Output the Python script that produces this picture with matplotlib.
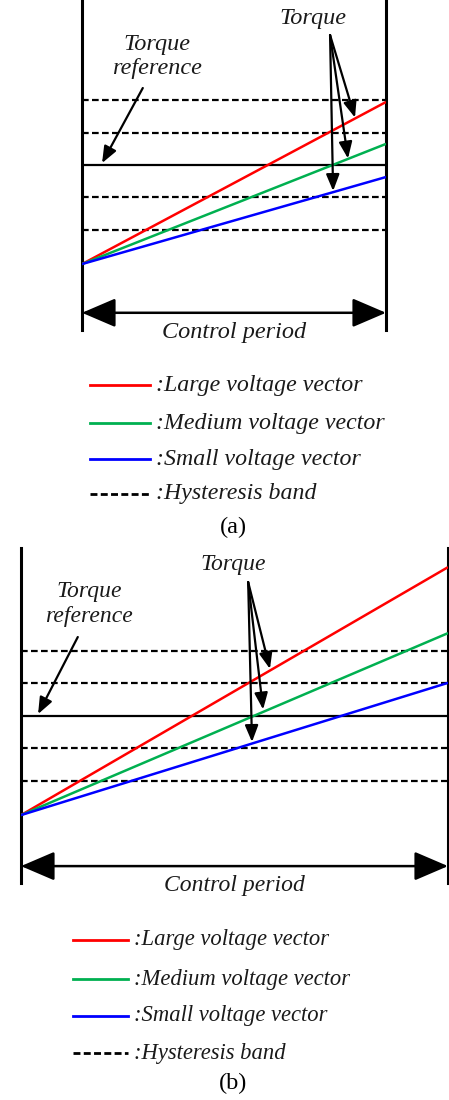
import matplotlib
matplotlib.use("Agg")
import matplotlib.pyplot as plt
from matplotlib.lines import Line2D

W, H = 449, 1100

# ---------------- data ----------------
vector_names = ["Large voltage vector", "Medium voltage vector", "Small voltage vector"]
vector_colors = ["#ff0000", "#00b050", "#0000ff"]
legend_labels = [":Large voltage vector", ":Medium voltage vector",
                 ":Small voltage vector", ":Hysteresis band"]

torque_ref = 0.0
hyst_levels = [2.0, 1.0, -1.0, -2.0]
period = [0.0, 1.0]

# panel (a)
start_a = -3.05
end_a = [1.94, 0.65, -0.37]
# panel (b)
start_b = -3.05
end_b = [4.58, 2.55, 1.02]

FONT = "Liberation Serif"
DASH = (0, (3, 1.5))


def px_axes(x0, x1, ytop, ybot):
    return fig.add_axes([x0 / W, 1 - ybot / H, (x1 - x0) / W, (ybot - ytop) / H])


def fx(px):
    return px / W


def fy(py):
    return 1 - py / H


fig = plt.figure(figsize=(W / 100, H / 100), dpi=100)


def draw_panel(ax, ylim, start, ends, torque_txt, ref_txt1, ref_txt2,
               ref_arrow, tq_from, tq_to, ctrl_y, ctrl_txt_y, fs):
    ax.set_xlim(period)
    ax.set_ylim(ylim)
    ax.axis("off")
    for xv in period:
        ax.axvline(xv, color="black", lw=2.2, clip_on=False)
    ax.hlines(hyst_levels, period[0], period[1], colors="black", lw=1.6,
              linestyles=[DASH])
    ax.hlines([torque_ref], period[0], period[1], colors="black", lw=1.6)
    for e, c in zip(ends, vector_colors):
        ax.plot(period, [start, e], color=c, lw=1.8, solid_capstyle="butt")
    tkw = dict(fontfamily=FONT, fontstyle="italic", fontsize=fs, color="#1a1a1a",
               ha="center", va="center")
    ax.text(*torque_txt, "Torque", **tkw)
    ax.text(*ref_txt1, "Torque", **tkw)
    ax.text(*ref_txt2, "reference", **tkw)
    akw = dict(arrowstyle="-|>,head_length=10,head_width=4", color="black",
               lw=1.6, mutation_scale=1, shrinkA=0, shrinkB=0)
    ax.annotate("", xy=ref_arrow[1], xytext=ref_arrow[0], arrowprops=akw,
                annotation_clip=False)
    for t in tq_to:
        ax.annotate("", xy=t, xytext=tq_from, arrowprops=akw, annotation_clip=False)
    ckw = dict(arrowstyle="<|-|>,head_length=21,head_width=9", color="black",
               lw=1.8, mutation_scale=1, shrinkA=0, shrinkB=0)
    ax.annotate("", xy=(period[1], ctrl_y), xytext=(period[0], ctrl_y),
                arrowprops=ckw, annotation_clip=False)
    ax.text(0.5, ctrl_txt_y, "Control period", **tkw)


# panel (a): x 82..386 px, y 0..330 px, reference at 165 px, 32.5 px per unit
ax_a = px_axes(82, 386, 0, 330)
draw_panel(ax_a, (-5.08, 5.08), start_a, end_a,
           torque_txt=(0.76, 4.50), ref_txt1=(0.247, 3.72), ref_txt2=(0.247, 2.98),
           ref_arrow=((0.20, 2.37), (0.066, 0.06)),
           tq_from=(0.816, 4.0),
           tq_to=[(0.898, 1.46), (0.875, 0.2), (0.826, -0.8)],
           ctrl_y=-4.55, ctrl_txt_y=-5.17, fs=17.5)

# panel (b): x 21..448 px, y 548..883 px, reference at 716 px
ax_b = px_axes(21, 448, 548, 883)
draw_panel(ax_b, (-5.14, 5.17), start_b, end_b,
           torque_txt=(0.496, 4.65), ref_txt1=(0.159, 3.82), ref_txt2=(0.159, 3.05),
           ref_arrow=((0.133, 2.43), (0.040, 0.06)),
           tq_from=(0.532, 4.12),
           tq_to=[(0.583, 1.45), (0.567, 0.2), (0.541, -0.8)],
           ctrl_y=-4.62, ctrl_txt_y=-5.23, fs=17)


def draw_legend(x0, x1, xt, ys, fs):
    styles = [dict(color=c, lw=2.0) for c in vector_colors] + \
             [dict(color="black", lw=2.0, linestyle=(0, (2.5, 1.2)))]
    for y, st, lab in zip(ys, styles, legend_labels):
        fig.add_artist(Line2D([fx(x0), fx(x1)], [fy(y), fy(y)], **st))
        fig.text(fx(xt), fy(y), lab, fontfamily=FONT, fontstyle="italic",
                 fontsize=fs, color="#1a1a1a", ha="left", va="center")


draw_legend(90, 150, 156, [385, 423, 459, 494], 17.2)
draw_legend(73, 128, 134, [940, 979, 1016, 1053], 16.3)

fig.text(fx(233), fy(527), "(a)", fontfamily=FONT, fontsize=17.5,
         ha="center", va="center")
fig.text(fx(233), fy(1083), "(b)", fontfamily=FONT, fontsize=17.5,
         ha="center", va="center")

fig.savefig("out.png", dpi=100)
